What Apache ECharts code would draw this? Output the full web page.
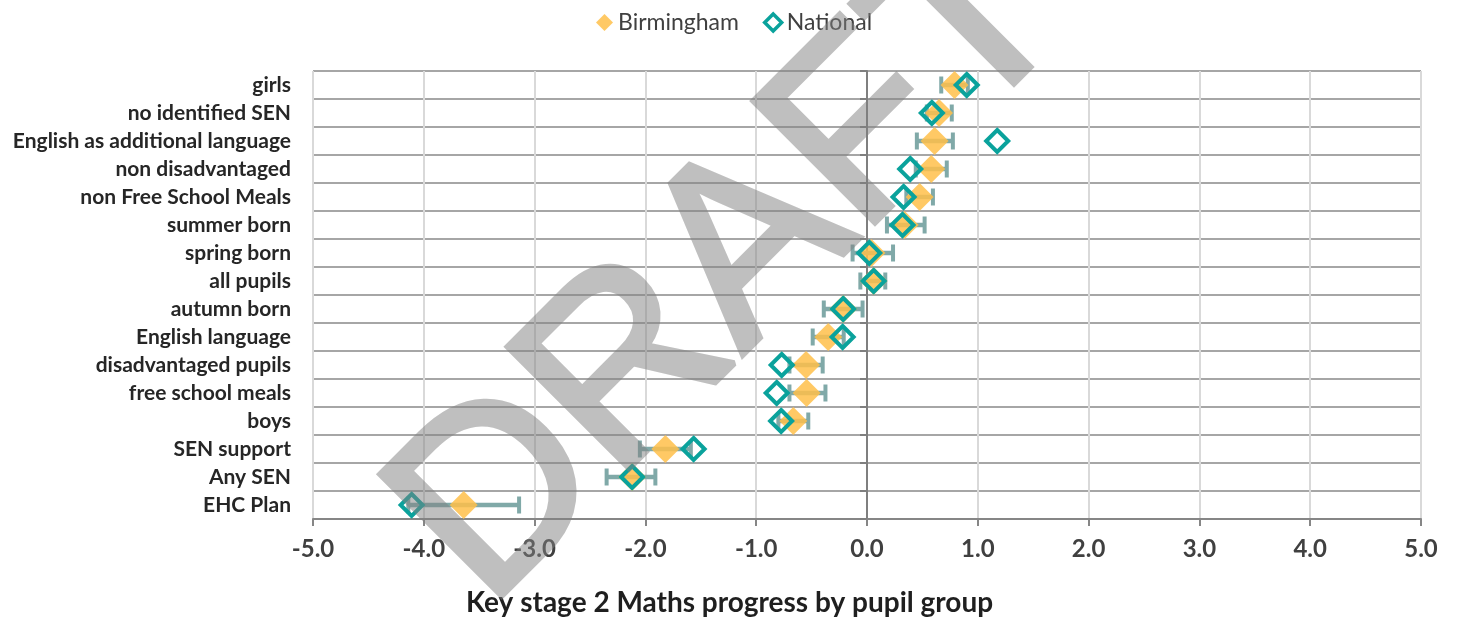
<!DOCTYPE html>
<html>
<head>
<meta charset="utf-8">
<script src="https://cdn.jsdelivr.net/npm/echarts@6/dist/echarts.min.js"></script>
<style>
html,body{margin:0;padding:0;background:#fff;}
#chart{width:1459px;height:618px;position:relative;}
</style>
</head>
<body>
<div id="chart"></div>
<script>
// ---- data ----
const categories = [
  'girls', 'no identified SEN', 'English as additional language', 'non disadvantaged',
  'non Free School Meals', 'summer born', 'spring born', 'all pupils', 'autumn born',
  'English language', 'disadvantaged pupils', 'free school meals', 'boys',
  'SEN support', 'Any SEN', 'EHC Plan'
];
const birmingham = [0.79, 0.65, 0.61, 0.58, 0.475, 0.34, 0.04, 0.06, -0.215, -0.35, -0.55, -0.545, -0.665, -1.82, -2.12, -3.64];
const birminghamLow = [0.67, 0.54, 0.45, 0.44, 0.355, 0.18, -0.13, -0.06, -0.39, -0.49, -0.70, -0.70, -0.80, -2.05, -2.35, -4.14];
const birminghamHigh = [0.91, 0.765, 0.775, 0.72, 0.595, 0.52, 0.235, 0.165, -0.04, -0.21, -0.40, -0.375, -0.53, -1.59, -1.91, -3.14];
const national = [0.90, 0.585, 1.175, 0.39, 0.33, 0.32, 0.02, 0.06, -0.215, -0.22, -0.77, -0.815, -0.775, -1.565, -2.12, -4.11];
const xTicks = { min: -5, max: 5, interval: 1 };
const titleText = 'Key stage 2 Maths progress by pupil group';
const watermarkText = 'DRAFT';

// ---- chart ----
const chart = echarts.init(document.getElementById('chart'), null, { renderer: 'canvas' });
const FONT = 'Lato';
const TEAL = '#0aa29c';
const GOLD = '#ffc04a';
const ERR = '#80a9a8';

const errData = categories.map((c, i) => [birminghamLow[i], birminghamHigh[i], i]);

const option = {
  animation: false,
  backgroundColor: '#ffffff',
  textStyle: { fontFamily: FONT },
  title: {
    text: titleText,
    left: 'center',
    top: 584,
    textStyle: { fontFamily: FONT, fontSize: 28, fontWeight: 'bold', color: '#1f1f1f' }
  },
  legend: {
    top: 6,
    left: 591,
    itemWidth: 17,
    itemHeight: 17,
    itemGap: 24,
    textStyle: { fontFamily: FONT, fontSize: 23, color: '#404040' },
    data: [
      { name: 'Birmingham', icon: 'diamond', itemStyle: { color: GOLD } },
      { name: 'National', icon: 'diamond', itemStyle: { color: '#ffffff', borderColor: TEAL, borderWidth: 3.5 } }
    ]
  },
  grid: { left: 313, right: 38, top: 71, bottom: 99, containLabel: false },
  xAxis: {
    type: 'value',
    min: xTicks.min,
    max: xTicks.max,
    interval: xTicks.interval,
    axisLine: { show: true, onZero: false, lineStyle: { color: '#868686', width: 2 } },
    axisTick: { show: true, length: 7, lineStyle: { color: '#868686', width: 2 } },
    splitLine: { show: true, lineStyle: { color: '#d9d9d9', width: 2 } },
    axisLabel: {
      margin: 18,
      fontFamily: FONT, fontSize: 24, fontWeight: 'bold', color: '#404040',
      formatter: v => v.toFixed(1)
    }
  },
  yAxis: [
    {
      type: 'category',
      data: categories,
      inverse: true,
      position: 'left',
      axisLine: { show: false, onZero: false },
      axisTick: { show: false },
      splitLine: { show: true, interval: 0, lineStyle: { color: '#a6a6a6', width: 2 } },
      axisLabel: { margin: 22, fontFamily: FONT, fontSize: 21, fontWeight: 'bold', color: '#262626', interval: 0 }
    },
    {
      type: 'category',
      data: categories,
      inverse: true,
      position: 'left',
      axisLine: { show: true, onZero: true, lineStyle: { color: '#7f7f7f', width: 2 } },
      axisTick: { show: true, length: 7, interval: 0, lineStyle: { color: '#7f7f7f', width: 2 } },
      splitLine: { show: false },
      axisLabel: { show: false }
    }
  ],
  series: [
    {
      name: 'err',
      type: 'custom',
      yAxisIndex: 0,
      encode: { x: [0, 1], y: 2 },
      data: errData,
      z: 2,
      renderItem: function (params, api) {
        const lo = api.coord([api.value(0), api.value(2)]);
        const hi = api.coord([api.value(1), api.value(2)]);
        const h = 8.5;
        const st = { stroke: ERR, lineWidth: 4.5 };
        return {
          type: 'group',
          children: [
            { type: 'line', shape: { x1: lo[0], y1: lo[1], x2: hi[0], y2: hi[1] }, style: st },
            { type: 'line', shape: { x1: lo[0], y1: lo[1] - h, x2: lo[0], y2: lo[1] + h }, style: { stroke: ERR, lineWidth: 4 } },
            { type: 'line', shape: { x1: hi[0], y1: hi[1] - h, x2: hi[0], y2: hi[1] + h }, style: { stroke: ERR, lineWidth: 4 } }
          ]
        };
      }
    },
    {
      name: 'Birmingham',
      type: 'scatter',
      yAxisIndex: 0,
      symbol: 'diamond',
      symbolSize: 28,
      z: 3,
      itemStyle: { color: GOLD, opacity: 0.85 },
      data: birmingham.map((v, i) => [v, i])
    },
    {
      name: 'National',
      type: 'scatter',
      yAxisIndex: 0,
      symbol: 'diamond',
      symbolSize: 22,
      z: 4,
      itemStyle: { color: 'rgba(255,255,255,0)', borderColor: TEAL, borderWidth: 4, opacity: 1 },
      data: national.map((v, i) => [v, i])
    }
  ],
  graphic: [
    {
      type: 'text',
      x: 733,
      y: 267,
      rotation: 45 * Math.PI / 180,
      zlevel: 5,
      z: 100,
      silent: true,
      style: {
        text: watermarkText,
        fontFamily: 'Liberation Sans',
        fontSize: 250,
        fontWeight: 'normal',
        fill: '#808080',
        stroke: '#808080',
        lineWidth: 6,
        lineJoin: 'miter',
        align: 'center',
        verticalAlign: 'middle'
      }
    }
  ]
};
chart.setOption(option);
// make the watermark layer (a separate canvas) translucent as a whole
function fadeWatermarkLayer() {
  const canvases = document.querySelectorAll('#chart canvas');
  for (let i = 1; i < canvases.length; i++) canvases[i].style.opacity = '0.5';
}
chart.getZr().refreshImmediately();
fadeWatermarkLayer();
chart.on('finished', fadeWatermarkLayer);
setTimeout(fadeWatermarkLayer, 0);
</script>
</body>
</html>
